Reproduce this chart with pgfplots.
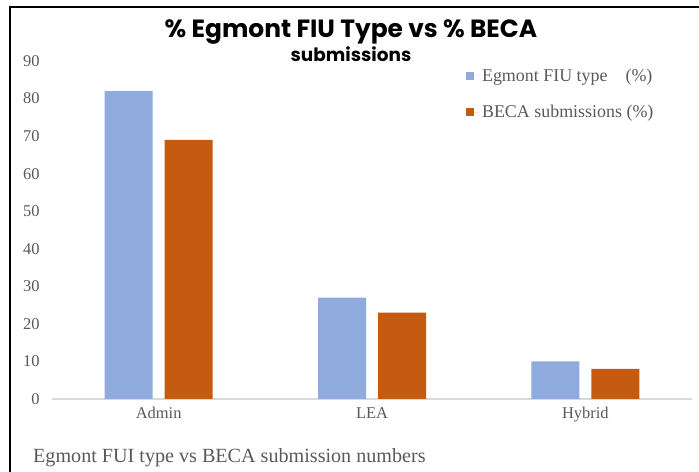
\documentclass[border=0pt]{standalone}
\usepackage{pgfplots}
\pgfplotsset{compat=1.18}
\usepackage{fontspec}
\setmainfont{Liberation Serif}
\newfontfamily\titlefont{Poppins}
\definecolor{cblue}{HTML}{8FAADC}
\definecolor{corange}{HTML}{C55A11}
\definecolor{tgray}{HTML}{595959}
\definecolor{agray}{HTML}{D9D9D9}
\begin{document}
\begin{tikzpicture}[x=1bp,y=1bp]
\useasboundingbox (0,0) rectangle (699,472);
\draw[line width=2bp] (10,0) -- (10,465) -- (699,465);
\begin{axis}[
  at={(52bp,73bp)}, anchor=south west,
  scale only axis, width=640bp, height=338bp,
  xmin=-0.5, xmax=2.5, ymin=0, ymax=90,
  axis lines*=left,
  y axis line style={draw=none},
  x axis line style={draw=agray, line width=1.2bp},
  major tick length=0pt,
  ytick={0,10,...,90},
  xtick={0,1,2}, xticklabels={Admin,LEA,Hybrid},
  /pgf/number format/assume math mode=true,
  yticklabel style={font=\fontsize{16.5}{16.5}\selectfont, text=tgray, xshift=-9bp},
  xticklabel style={font=\fontsize{16.5}{16.5}\selectfont, text=tgray, yshift=-5bp},
  legend style={at={(rel axis cs:0.642,0.99)}, anchor=north west, draw=none, fill=none,
    font=\fontsize{18}{18}\selectfont, text=tgray, row sep=19bp},
  legend cell align=left,
  clip=false,
]
\addplot[ybar, bar width=48bp, bar shift=-30bp, fill=cblue, draw=none,
  legend image code/.code={\path (0bp,0bp) -- (14bp,0bp);\fill[cblue] (0bp,-4bp) rectangle (8bp,4bp);}]
  coordinates {(0,82) (1,27) (2,10)};
\addlegendentry{Egmont FIU type\quad(\%)}
\addplot[ybar, bar width=48bp, bar shift=30bp, fill=corange, draw=none,
  legend image code/.code={\path (0bp,0bp) -- (14bp,0bp);\fill[corange] (0bp,-4bp) rectangle (8bp,4bp);}]
  coordinates {(0,69) (1,23) (2,8)};
\addlegendentry{BECA submissions (\%)}
\end{axis}
\node[anchor=base] at (351,434) {\titlefont\bfseries\fontsize{25}{25}\selectfont \% Egmont FIU Type vs \% BECA};
\node[anchor=base] at (351,410) {\titlefont\bfseries\fontsize{18.5}{18.5}\selectfont submissions};
\node[anchor=base west, inner sep=0pt, text=tgray] at (33,9) {\fontsize{20.2}{20.2}\selectfont Egmont FUI type vs BECA submission numbers};
\end{tikzpicture}
\end{document}
